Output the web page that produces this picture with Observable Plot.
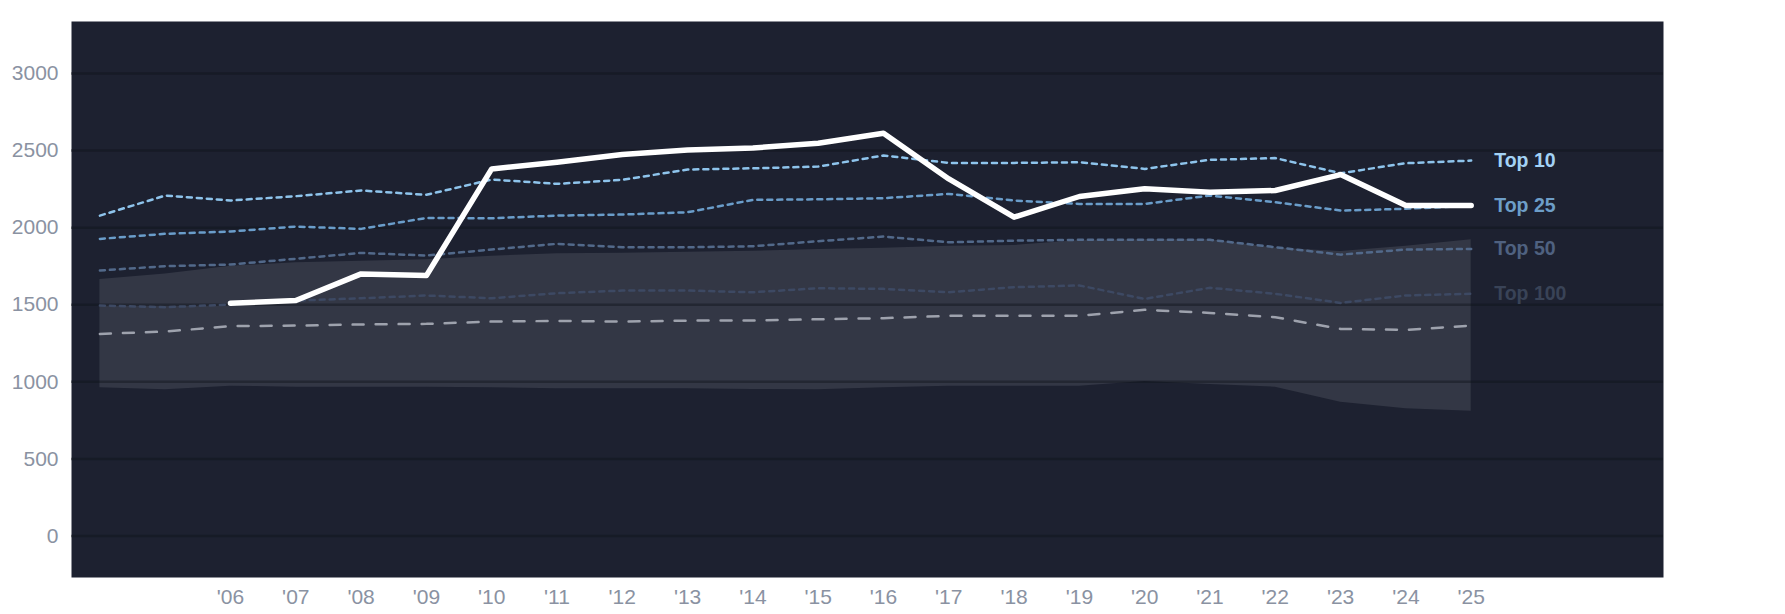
<!DOCTYPE html>
<html>
<head>
<meta charset="utf-8">
<script src="https://cdn.jsdelivr.net/npm/d3@7"></script>
<script src="https://cdn.jsdelivr.net/npm/@observablehq/plot@0.6"></script>
<style>
  html, body { margin: 0; padding: 0; background: #ffffff; }
  #chart svg { display: block; }
</style>
</head>
<body>
<div id="chart"></div>
<script>
const years = [2004, 2005, 2006, 2007, 2008, 2009, 2010, 2011, 2012, 2013, 2014, 2015, 2016, 2017, 2018, 2019, 2020, 2021, 2022, 2023, 2024, 2025];
const tickYears = [2006, 2007, 2008, 2009, 2010, 2011, 2012, 2013, 2014, 2015, 2016, 2017, 2018, 2019, 2020, 2021, 2022, 2023, 2024, 2025];
const yTicks = [0, 500, 1000, 1500, 2000, 2500, 3000];

const top10  = [2078, 2208, 2176, 2204, 2241, 2213, 2312, 2284, 2310, 2377, 2385, 2396, 2468, 2420, 2420, 2424, 2381, 2440, 2451, 2353, 2418, 2435];
const top25  = [1927, 1960, 1975, 2007, 1992, 2063, 2061, 2078, 2085, 2100, 2180, 2184, 2191, 2219, 2176, 2154, 2154, 2208, 2165, 2111, 2122, 2143];
const top50  = [1722, 1750, 1761, 1798, 1836, 1819, 1858, 1895, 1873, 1873, 1879, 1912, 1942, 1905, 1916, 1921, 1921, 1921, 1873, 1825, 1858, 1862];
const top100 = [1495, 1484, 1501, 1527, 1542, 1560, 1542, 1575, 1592, 1592, 1581, 1607, 1603, 1581, 1614, 1625, 1538, 1610, 1571, 1512, 1560, 1571];
const median = [1311, 1326, 1361, 1365, 1372, 1376, 1391, 1395, 1391, 1397, 1397, 1406, 1413, 1428, 1428, 1428, 1467, 1447, 1419, 1343, 1337, 1365];
const bandHigh = [1663, 1700, 1750, 1772, 1782, 1791, 1815, 1830, 1834, 1841, 1847, 1858, 1867, 1879, 1884, 1916, 1921, 1921, 1868, 1845, 1880, 1921];
const bandLow  = [961, 948, 972, 965, 965, 965, 961, 955, 955, 955, 950, 948, 961, 972, 972, 972, 1002, 982, 965, 868, 825, 810];

const teamYears = [2006, 2007, 2008, 2009, 2010, 2011, 2012, 2013, 2014, 2015, 2016, 2017, 2018, 2019, 2020, 2021, 2022, 2023, 2024, 2025];
const team = [1510, 1527, 1700, 1689, 2381, 2424, 2474, 2504, 2517, 2547, 2612, 2316, 2068, 2202, 2252, 2230, 2241, 2344, 2143, 2143];

const tierNames = ["Top 10", "Top 25", "Top 50", "Top 100"];
const tierValues = [top10, top25, top50, top100];
const tierLine = ["#8ec4ec", "#6a9dca", "#52698a", "#3d4963"];
const tierText = ["#a3d2f5", "#6d9ec8", "#4f6180", "#394357"];

const tiers = tierNames.flatMap((name, i) => years.map((yr, j) => ({name, year: yr, value: tierValues[i][j]})));
const bandData = years.map((yr, j) => ({year: yr, lo: bandLow[j], hi: bandHigh[j], med: median[j]}));
const teamData = teamYears.map((yr, j) => ({year: yr, value: team[j]}));
const lastTier = tierNames.map((name, i) => ({name, year: years[years.length - 1], value: tierValues[i][years.length - 1], color: tierText[i]}));

const chart = Plot.plot({
  width: 1785,
  height: 614,
  marginLeft: 71,
  marginRight: 122,
  marginTop: 21,
  marginBottom: 37,
  style: {fontFamily: "Liberation Sans, Arial, sans-serif", background: "#ffffff"},
  x: {domain: [2003.565, 2027.945], label: null},
  y: {domain: [-269, 3337], label: null},
  marks: [
    Plot.frame({fill: "#1d2130", stroke: null}),
    Plot.areaY(bandData, {x: "year", y1: "lo", y2: "hi", fill: "#333745"}),
    Plot.ruleY(yTicks, {stroke: "#10131b", strokeOpacity: 0.45, strokeWidth: 2.5}),
    Plot.line(tiers.filter(d => d.name === "Top 100"), {x: "year", y: "value", stroke: tierLine[3], strokeWidth: 2.5, strokeDasharray: "5,5"}),
    Plot.line(tiers.filter(d => d.name === "Top 50"), {x: "year", y: "value", stroke: tierLine[2], strokeWidth: 2.5, strokeDasharray: "5,5"}),
    Plot.line(tiers.filter(d => d.name === "Top 25"), {x: "year", y: "value", stroke: tierLine[1], strokeWidth: 2.5, strokeDasharray: "5,5"}),
    Plot.line(tiers.filter(d => d.name === "Top 10"), {x: "year", y: "value", stroke: tierLine[0], strokeWidth: 2.5, strokeDasharray: "5,5"}),
    Plot.line(bandData, {x: "year", y: "med", stroke: "#9ea2ad", strokeWidth: 2.5, strokeDasharray: "11,12"}),
    Plot.line(teamData, {x: "year", y: "value", stroke: "#ffffff", strokeWidth: 5.5}),
    Plot.text(lastTier, {x: "year", y: "value", text: "name", fill: "color", dx: 23, textAnchor: "start", fontWeight: "bold", fontSize: 19.5}),
    Plot.axisY(yTicks, {tickSize: 0, tickPadding: 13, fontSize: 21, fill: "#8a92a2", tickFormat: d => String(d)}),
    Plot.axisX(tickYears, {tickSize: 0, tickPadding: 12, fontSize: 21, fill: "#8a92a2", tickFormat: d => "'" + String(d).slice(2)})
  ]
});
document.getElementById("chart").appendChild(chart);
</script>
</body>
</html>
